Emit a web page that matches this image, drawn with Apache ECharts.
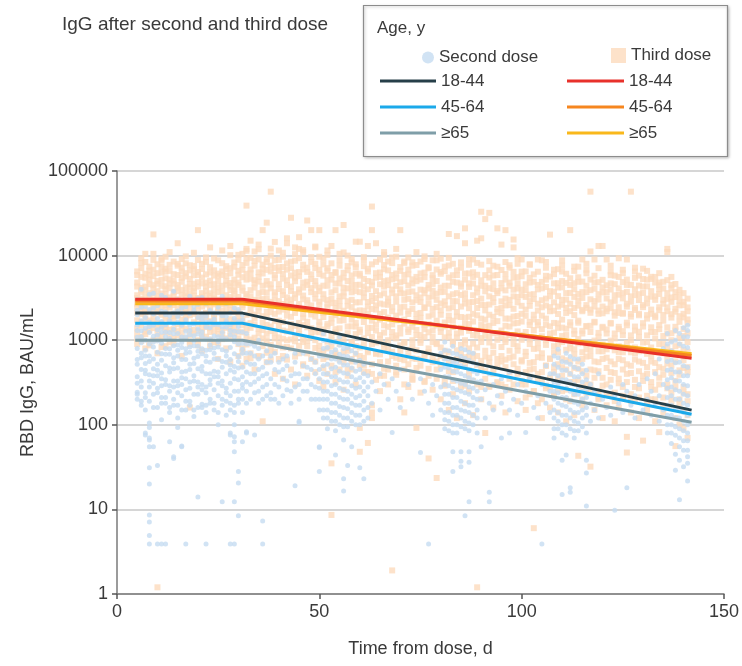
<!DOCTYPE html>
<html>
<head>
<meta charset="utf-8">
<script src="https://cdn.jsdelivr.net/npm/echarts@6/dist/echarts.min.js"></script>
<style>html,body{margin:0;padding:0;background:#fff}#c{width:742px;height:666px}</style>
</head>
<body>
<div id="c"></div>
<script>
// x-axis ticks and y-axis (log) ticks
const xTicks = [0, 50, 100, 150];
const yTicks = [1, 10, 100, 1000, 10000, 100000];

// Fitted model lines: [day, RBD IgG]
const second1844 = [[4.5, 2090], [31, 2090], [142, 149]];
const second4564 = [[4.5, 1590], [31, 1590], [142, 133]];
const second65 = [[4.5, 1000], [31, 1000], [142, 107]];
const third1844 = [[4.5, 3050], [31, 3050], [142, 612]];
const third4564 = [[4.5, 2900], [31, 2900], [142, 660]];
const third65 = [[4.5, 2700], [31, 2700], [142, 690]];

// Individual measurements after the second dose, rows: [day, value, value, ...]
const secondDoseRows = [
[5,200,310,520,800,1300,2000,3000,243],
[6,170,280,450,700,1100,1700,2700,4000],
[7,150,240,400,650,1000,1600,2500,76,80],
[8,105,93,66,55,31,20,8.6,7.1,4.9,3.9,190,330,560,900,1450,2300,3500,70],
[9,230,380,600,950,1500,2400,3600,55],
[10,33,3.9,160,270,440,720,1150,1800,2900],
[11,3.9,115,210,350,580,920,1400,2200,3400],
[12,3.9,180,300,500,800,1250,2000,3200],
[13,63,140,250,420,680,1050,1700,2600],
[14,42,40,200,330,540,860,1350,2100,3800],
[15,120,93,170,290,470,760,1200,1900,3000],
[16,55,56,220,360,590,940,1500,2400],
[17,3.9,150,260,430,700,1100,1750,2800],
[18,190,320,520,830,1300,2050,3300],
[19,125,230,380,610,980,1550,2500],
[20,14,160,280,460,740,1180,1850,3100],
[21,175,300,490,790,1250,2000,3200],
[22,3.9,140,240,400,650,1030,1650,2700],
[23,200,340,550,880,1400,2250],
[24,150,260,430,700,1120,1780,2900],
[25,100,220,370,600,960,1530,2450],
[26,12.3,170,290,480,770,1230,1950,3300],
[27,130,240,400,650,1040,1670,2700],
[28,76,80,3.9,180,310,510,820,1300,2100],
[29,100,63,48,12.3,72,3.9,140,250,420,690,1100,1800,2900],
[30,28,20.5,8.4,200,340,560,900,1450,2300],
[31,63,200,300,480,780,1250,2000],
[32,83,80,250,420,700,1200],
[33,300,520,900],
[34,76,240,400,650],
[35,180,350,600,1000],
[36,7.3,3.9,280,480],
[37,220,400,750],
[38,240,200,550],
[39,300,700],
[40,180,420],
[41,350,600],
[42,260,500],
[43,250],
[44,19,400,700],
[45,110,106,300],
[46,500,250],
[47,350],
[48,200,600],
[49,400,280],
[50,270,55,54,28,150,450],
[51,120,200,320,500,800,1200],
[52,90,150,250,400,650,1000],
[53,110,180,290,460,720],
[54,44,85,140,230,370,600,950],
[55,100,165,270,430,680,1100],
[56,66,23,16.5,120,200,320,510,800],
[57,33,95,155,250,400,640],
[58,55,110,180,290,470,750],
[59,130,210,340,550],
[60,31,100,170,280,450],
[61,23,150,250,400],
[62,120,220,380],
[63,180,320],
[64,250],
[65,150,400],
[66,300],
[67,200],
[68,81,350],
[69,250],
[70,160,450],
[72,300],
[73,200],
[75,47,350],
[76,250],
[77,3.9,180],
[78,300,130],
[79,220],
[80,150,280,450,700],
[81,90,140,230,370,600,950],
[82,110,180,290,470,750],
[83,48,28,80,130,210,340,550,850],
[84,100,160,260,420,680],
[85,37,32,48,120,190,310,500,800],
[86,8.4,90,145,240,380,610],
[87,48,36,12.3,105,170,280,450,720],
[88,130,210,340,540],
[89,80,150,250,400],
[90,55,200,330],
[91,120,260],
[92,16,12.3,180,400],
[93,150,300],
[94,220],
[95,70,350,180],
[96,250],
[97,80,150,420],
[98,200],
[99,300,130],
[100,180],
[101,81,250],
[102,350],
[103,160],
[104,220,120],
[105,3.9,300],
[106,180,500],
[107,140,250,400],
[108,90,150,250,400,650],
[109,110,180,300,480,780],
[110,38,15,80,130,210,340,560],
[111,44,100,165,270,440,700],
[112,18,16,120,195,320,520],
[113,85,140,230,370,600],
[114,105,175,280,460],
[115,95,150,250,400],
[116,27,11,38,130,210,340],
[117,110,180,300],
[118,150,250],
[119,120,400],
[120,200],
[121,160],
[122,280,130],
[123,9.8,220],
[124,180],
[125,140,300],
[126,18,250],
[127,170],
[128,220,120],
[129,300],
[130,150],
[131,200,350],
[132,130,250],
[133,180,400],
[134,110,220,600],
[135,150,300,800],
[136,80,130,210,340,560,900],
[137,60,100,170,280,450,750],
[138,29,45,75,120,200,330,540,1000],
[139,13,38,55,90,150,250,420,700,1200],
[140,32,65,110,180,300,500,850,1400],
[141,21.6,35,50,80,130,220,380,650,1100,1500]
];

// More second-dose measurements in the dense clusters
const secondDoseRowsDense = [
[5,230,370,590,1080,1510,2260],
[6,190,330,620,930,1290,2450],
[7,210,440,530,760,1380,1850],
[8,280,390,650,1230,1640],
[9,160,310,460,830,1110,2040],
[10,240,380,520,980,1330,2560],
[11,180,290,410,690,1240,1660],
[12,210,340,680,1100,1520,2150],
[13,160,290,470,790,1230,1940],
[14,170,280,460,620,1190,1560],
[15,240,330,650,880,1640,2210],
[16,150,300,420,820,1090,2070],
[17,190,350,590,790,1280,2480],
[18,170,270,450,720,1160,1500],
[19,150,330,530,860,1130,2230],
[20,230,320,640,850,1350,2650],
[21,160,260,430,690,1110,1770],
[22,170,280,560,760,1420,1920],
[23,180,300,400,770,1030,1660],
[24,180,370,600,810,1530,2090],
[25,140,310,420,830,1100,2100],
[26,200,330,560,1080,1420],
[27,190,270,550,740,1420,1920],
[28,150,220,440,590,1150,1520],
[29,170,350,490,960,1280,2400],
[30,180,250,470,640,1260,1650],
[31,140,270,370,700,920,1750],
[32,180,320,550,900],
[33,200,400,700],
[34,320,520,850],
[35,250,450,800],
[36,200,380,650],
[37,300,550],
[38,350,650],
[39,200,450],
[40,280,550],
[41,220,450],
[42,330,650],
[43,180,380],
[44,280,550],
[45,200,400],
[46,350,700],
[47,250,480],
[48,300,450],
[49,200,550],
[50,200,350,650],
[51,150,250,400,650,1000],
[52,120,200,320,520,820],
[53,140,230,370,600,950],
[54,110,180,300,480,770],
[55,130,210,340,550,870],
[56,95,160,260,410,650],
[57,120,200,320,510,820],
[58,140,230,370,600],
[59,100,170,270,430,700],
[60,130,220,360,580],
[61,110,190,320,520],
[62,160,280],
[81,115,180,300,480,760],
[82,85,140,230,370,600],
[83,100,160,270,430,700],
[84,80,130,210,330,540],
[85,95,150,250,400,640],
[86,110,180,300,480,770],
[87,85,140,230,360,580],
[88,100,170,270,430,700],
[89,120,200,320,520],
[108,70,120,200,320,520],
[109,90,140,240,380,620],
[110,100,170,270,440],
[111,75,130,210,340,550],
[112,90,150,250,400,640],
[113,70,110,185,300,480],
[114,85,140,230,370,600],
[115,120,200,320,520],
[116,80,160,270,440],
[136,100,170,270,440,720,1200],
[137,80,130,220,360,580,950],
[138,95,160,260,420,700,1300],
[139,70,120,200,330,550,900],
[140,50,85,140,230,380,640,1100],
[141,42,65,100,170,290,480,820,1300]
];

// Individual measurements after the third dose, rows: [day, value, value, ...]
const thirdDoseRows = [
[5,1200,2100,3400,4800,6500,900,2700],
[6,1500,2500,3900,5600,8200,1100,3100],
[7,800,1800,2900,4300,6100,10500,2300],
[8,1300,2200,3600,5200,7400,950,4600],
[9,1000,1900,3000,4100,6800,17800,10500,2500],
[10,1400,2400,3300,5000,7900,700,3800,1.2],
[11,1100,2000,2800,4400,6300,9200,1600],
[12,1250,2300,3500,5400,7000,850,4000],
[13,950,1700,3200,4700,6600,11000,2600],
[14,1350,2600,3700,5100,8500,1050,2050],
[15,1150,2150,3050,4500,5900,14000,7600],
[16,1450,2450,3450,4900,7200,650,1750],
[17,1050,1950,2750,4200,6200,9800,3300],
[18,1300,2350,3550,5300,7700,900,160],
[19,1200,2050,2950,4650,6900,10800,3800],
[20,1000,1850,3150,4850,6400,20000,2550],
[21,1400,2500,3600,5500,8000,750,1650],
[22,1100,2100,2900,4300,6000,9500,3400],
[23,1250,2250,3350,5050,7300,12500,850],
[24,950,1800,3100,4600,6700,1500,2650],
[25,1350,2400,3700,5700,8800,600,4200],
[26,1150,2000,3000,4400,6500,11500,1700],
[27,1050,2200,3400,5000,7500,800,2800],
[28,1300,2300,3250,4750,7100,13000,550],
[29,1200,2150,3500,5200,8300,1600,4000],
[30,900,1900,2900,4500,6600,10200,650],
[31,800,1500,2600,4200,6800,10500,500],
[32,1100,2000,3300,5200,8200,12000,600,39000],
[33,700,1400,2400,3900,6200,9400,15000],
[34,950,1800,3000,4700,7600,11200,450],
[35,1200,2200,3600,5600,9000,13500,650],
[36,850,1600,2800,4400,7000,20000,110],
[37,1000,1900,3100,5000,8400,24500,550],
[38,750,1450,2500,4100,6500,10000,57000],
[39,1050,2050,3400,5400,8800,14500,400],
[40,900,1700,2900,4600,7300,11500,600],
[41,650,1300,2300,3800,6100,9700,350],
[42,1000,1950,3200,5100,8100,16000,14000],
[43,800,1550,2700,4300,7100,28000,450],
[44,1100,2100,3500,5500,8700,12500,300],
[45,700,1350,2450,4000,6400,16500,12000],
[46,950,1850,3050,4800,7800,11000,500],
[47,850,1650,2750,4500,7200,26000,380],
[48,600,1250,2200,3700,6000,9600,20000],
[49,1000,1900,3100,5000,8000,12800,420],
[50,750,1500,2600,4200,6800,20000,330],
[51,600,1200,2100,3500,5800,9200,280],
[52,800,1550,2700,4400,7100,11500,400],
[53,500,1000,1800,3100,5200,13000,35,8.6],
[54,700,1350,2400,3900,6400,20000,320],
[55,900,1700,2900,4700,7600,10500,450],
[56,550,1100,2000,3300,5500,23000,260],
[57,750,1450,2550,4100,6700,10000,380],
[58,450,950,1750,3000,5000,8300,600],
[59,850,1600,2800,4500,7300,14600,300],
[60,650,1250,2250,3700,6100,14600,92,48],
[61,500,1050,1900,3200,5300,8800,420],
[62,750,1400,2500,4000,6500,13000,61],
[63,400,900,1700,2900,4900,38000,20000,170,140,120],
[64,700,1300,2300,3800,6200,14000,340],
[65,550,1150,2050,3400,5600,9000,250],
[66,800,1500,2650,4300,6900,11000,380],
[67,450,1000,1850,3100,5100,8500,300],
[68,650,1250,2200,3600,5900,9500,1.9],
[69,500,1050,1950,3300,5400,12000,420],
[70,750,1400,2450,4000,6600,20000,200],
[71,450,950,1750,3000,5000,8200,140],
[72,650,1250,2200,3700,6000,9500,280],
[73,400,850,1600,2800,4700,7600,350],
[74,600,1150,2050,3400,5600,11000,92],
[75,500,1000,1850,3200,5200,8500,240],
[76,700,1350,2400,3900,6300,9800,320],
[77,380,800,1550,2700,4500,7300,40],
[78,550,1100,2000,3300,5400,8800,260],
[79,450,900,1700,3000,5000,10500,23.5],
[80,650,1250,2250,3700,6100,9200,200],
[81,350,750,1450,2600,4400,7400,300],
[82,550,1100,1950,3300,5500,18000,150],
[83,420,900,1700,2900,4900,8000,230],
[84,600,1200,2150,3600,5900,17000,120],
[85,320,700,1400,2500,4300,7200,280],
[86,500,1000,1850,3100,5200,21000,14000,180],
[87,380,800,1550,2800,4700,7800,250],
[88,580,1150,2050,3400,5600,9000,130],
[89,300,650,1300,2400,4100,15000,1.2],
[90,480,950,1800,3100,5100,33000,16000,200],
[91,350,750,1450,2600,4400,27000,80],
[92,550,1100,2000,3300,5500,32000,280],
[93,400,850,1600,2800,4700,7600,160],
[94,600,1200,2150,3600,5900,21000,320],
[95,300,650,1300,2400,4100,13500,220],
[96,480,950,1800,3100,5200,20000,140],
[97,350,750,1450,2600,4400,7200,260],
[98,520,1050,1900,3300,5500,15500,12500],
[99,400,850,1600,2800,4700,8000,190],
[100,580,1150,2050,3400,5700,9000,300],
[101,300,650,1250,2300,3900,6500,150],
[102,450,900,1650,2900,4800,7800,230],
[103,250,550,1100,2000,3500,6000,6],
[104,400,800,1500,2700,4500,9000,180],
[105,330,700,1350,2450,4100,8800,120],
[106,500,1000,1800,3100,5200,7200,270],
[107,280,600,1200,2200,3800,17700,160],
[108,420,850,1600,2800,4700,6800,220],
[109,350,720,1400,2500,4200,6900,140],
[110,480,950,1750,3000,5000,7600,250],
[111,260,580,1150,2100,3600,6100,110],
[112,400,800,1500,2700,4500,20000,190],
[113,320,680,1300,2400,4000,6600,130],
[114,460,920,1700,2950,4900,7400,43],
[115,280,600,1200,2200,3700,9000,170],
[116,380,780,1450,2600,4400,6800,240],
[117,300,650,1250,2300,3900,57000,11200,32],
[118,440,880,1650,2900,4800,9000,150],
[119,250,550,1100,2050,3500,13000,200],
[120,360,740,1400,2500,4200,13000,120],
[121,300,620,1200,2200,3700,9000,170],
[122,420,850,1600,2800,4700,6500,230],
[123,240,520,1050,1950,3400,5800,110],
[124,350,720,1350,2450,4100,9300,160],
[125,280,580,1150,2100,3600,6200,210],
[126,400,800,1500,2700,4500,9000,72,47],
[127,230,500,1000,1900,3300,57000,140],
[128,340,700,1300,2400,4000,6500,190],
[129,270,560,1100,2050,3500,5800,120],
[130,380,760,1450,2600,4300,7000,65],
[131,220,480,950,1800,3100,5200,150],
[132,320,650,1250,2300,3800,5300,200],
[133,260,540,1050,1950,3300,5600,110],
[134,360,720,1350,2450,4000,4800,82],
[135,210,460,900,1700,3000,4900,140],
[136,300,620,1200,2200,3600,12000,11000],
[137,240,500,1000,1850,3200,4500,170],
[138,330,680,1300,2350,3700,56,120],
[139,200,440,880,1650,2900,3400,100],
[140,280,580,1120,2050,2600,150,90],
[141,230,480,950,1600,2200,130,70]
];

// More third-dose measurements inside the dense band
const thirdDoseRowsDense = [
[5,1050,1380,1720,2480,3150,4300,5900],
[6,980,1640,2050,2330,3720,4150,7100,9300],
[7,1180,1270,2140,3320,3890,5470,8400],
[8,870,1540,1710,2790,3270,5890,6650],
[9,1390,1660,2370,3560,4480,5720,8900],
[10,1010,1190,1580,2140,2920,4650,6210],
[11,830,1470,2490,3110,3560,5160,7330,8700],
[12,1420,1530,1820,2610,4340,6460,9700],
[13,1110,1330,2440,2960,4120,5230,7780],
[14,910,1760,1930,2850,3310,4670,6040],
[15,1280,1540,1990,2370,3810,4180,7990],
[16,1060,1230,2090,2630,3910,5440,6470,9100],
[17,1370,1710,2110,2380,3610,5680,8110],
[18,960,1150,1970,2710,4170,4620,6680],
[19,1320,1630,2240,3370,4120,5860,7540],
[20,870,1290,1560,2380,2790,4310,5910,8860],
[21,1080,1250,1940,2870,3270,4690,6940],
[22,1430,1510,1860,2640,3830,4790,8430],
[23,1020,1390,1680,2450,3590,4480,6310],
[24,1280,1620,2050,3440,3980,5810,9240],
[25,920,1180,1430,2170,3010,4940,6120],
[26,1030,1320,2230,2650,3790,5910,8140],
[27,1400,1690,2560,3020,4530,5760,6890],
[28,1120,1430,1770,2590,3920,4320,6170,10100],
[29,1390,1670,2310,2820,3820,4710,7380],
[30,1050,1260,1690,2170,3240,4790,5940,8920],
[31,720,1240,1720,2450,3840,5560,7730],
[32,890,1310,1530,2880,3510,6090,9220,11400],
[33,610,1020,1590,2070,3300,5320,6880],
[34,1070,1520,2010,2640,4190,5120,8630],
[35,640,990,1360,2430,3050,4930,6350,11900],
[36,1050,1320,1920,3060,3720,6150,7810],
[37,710,1190,1520,2170,3660,4540,6780,9100],
[38,590,880,1280,2140,2840,4590,7620,12100],
[39,730,1210,1690,2930,3680,5910,7170],
[40,1080,1460,2180,2530,4030,6620,8910],
[41,820,1040,1640,2680,3420,5340,7320,10800],
[42,590,830,1270,2270,2870,4490,6830],
[43,1020,1330,1890,3020,3820,5820,8460],
[44,640,970,1480,2380,3140,4980,6290,10400],
[45,860,1180,1600,2670,3660,5720,9320],
[46,520,1020,1510,2040,3370,4190,6870,11600],
[47,700,980,1420,2330,2970,4920,6420],
[48,1090,1380,2010,2580,4130,5280,8420],
[49,560,810,1260,2200,3510,4420,7120,12500],
[50,860,1240,1650,2850,3790,6040,9690],
[51,470,730,1340,1880,3090,4410,7870],
[52,630,960,1460,2460,2980,5110,6610,10200],
[53,840,1140,1600,2740,3680,5900,8100],
[54,420,660,1240,1980,2770,4680,6230],
[55,590,1050,1380,2510,3300,5360,8830],
[56,720,940,1720,2230,3660,4180,6260,10900],
[57,450,810,1210,2060,2890,5000,7530],
[58,560,930,1460,2460,3680,4260,5820,9100],
[59,690,1180,1450,2190,3810,6130,7890],
[60,510,820,1330,1940,2810,4520,5790],
[61,620,890,1640,2230,3640,4300,7490,9600],
[62,420,720,1210,2070,2830,5010,6980],
[63,520,1090,1400,2340,3330,4440,7880],
[64,690,940,1530,2580,3140,5480,8430],
[65,380,680,1040,1750,2710,4580,6310],
[66,460,900,1230,2150,3580,4990,7740,10200],
[67,560,790,1440,2620,2840,4480,6680],
[68,730,1090,1540,2460,3970,5250,8150],
[69,390,620,1140,1720,2850,4390,6140,9700],
[70,600,870,1200,2120,3620,4840,7320],
[71,300,580,930,1570,2490,3560,5910,8500],
[72,520,770,1340,2040,3080,4440,6830],
[73,340,610,1000,1440,2340,3770,5240,8330],
[74,470,760,1320,1780,2960,4980,7740],
[75,590,930,1150,2100,2830,3960,6160],
[76,330,610,1090,1510,2450,3590,5560,9100],
[77,460,720,1240,1910,3180,4080,7080],
[78,620,950,1310,2350,3840,4630,5880],
[79,350,560,920,1490,2460,3550,6850,8800],
[80,510,820,1390,2000,2720,4190,6410],
[81,290,620,1080,1620,2880,3730,6560],
[82,430,720,1230,1730,2370,4400,7640,9400],
[83,330,580,960,1430,2460,3490,5860],
[84,480,760,1080,1910,2890,4800,6690],
[85,580,880,1230,1880,3430,4680,8320],
[86,290,630,910,1580,2710,3580,6130],
[87,440,640,1290,1890,2390,4260,6160,9100],
[88,330,680,910,1660,2830,4680,6350],
[89,510,820,1130,1970,2900,3660,5930,8200],
[90,280,570,1060,1510,2610,4400,7820],
[91,430,640,1130,1750,2250,3790,5870],
[92,290,620,940,1480,2640,4120,6690,8600],
[93,460,710,1210,1890,3150,4010,5820],
[94,310,510,1010,1680,2340,3810,7380],
[95,560,830,1090,2080,2880,4730,6760],
[96,280,590,1020,1480,2580,3880,6050,8400],
[97,420,620,1150,1800,3000,4790,7690],
[98,300,640,900,1580,2350,3950,6430],
[99,460,750,1270,1930,3240,4080,5560,9300],
[100,330,560,1010,1660,2550,3960,6460],
[101,210,420,730,1120,1940,3250,4590],
[102,370,540,1020,1510,2550,3460,5460,7900],
[103,250,460,790,1320,1760,3060,4900],
[104,330,630,920,1640,2240,3990,6450],
[105,200,420,620,1110,1950,2970,4890],
[106,290,500,880,1520,2570,4250,5770,8400],
[107,360,610,1060,1460,2460,3310,5650],
[108,220,480,720,1230,2230,3740,6040],
[109,260,520,890,1580,2040,3320,4720],
[110,380,610,1120,1410,2620,4220,6480,8800],
[111,200,450,770,1370,2410,3020,4760],
[112,320,560,910,1630,2200,3620,5390],
[113,230,470,780,1180,1980,3250,4710,7400],
[114,340,560,1030,1610,2560,3520,5540],
[115,200,430,720,1290,2280,3160,4930],
[116,300,640,900,1470,2410,3700,6180,8000],
[117,240,450,760,1480,2110,3040,5200],
[118,360,560,990,1620,2500,4060,5780],
[119,210,430,740,1220,2240,3020,4860,7100],
[120,290,600,890,1440,2080,3670,5170],
[121,230,470,780,1340,2360,3110,4460],
[122,340,560,990,1570,2390,3970,5880,7600],
[123,190,410,760,1200,2140,2920,4600],
[124,310,600,850,1440,2100,3450,5600],
[125,220,450,720,1280,2050,3120,4870,6800],
[126,320,520,930,1610,2500,3720,5210],
[127,190,410,720,1140,2040,2850,4510],
[128,280,590,820,1450,2280,3410,5460,7200],
[129,210,430,740,1260,1970,2980,4420],
[130,330,540,940,1590,2460,3620,5290],
[131,180,400,690,1140,1980,2720,4330,6600],
[132,280,560,820,1420,2050,3270,5610],
[133,200,420,720,1250,1870,3000,4800],
[134,300,480,900,1510,2260,3520,4460,6200],
[135,170,390,700,1120,1990,2700,4080],
[136,270,530,830,1420,2440,3080,5130],
[137,200,410,740,1210,2030,2840,4080,5600],
[138,280,560,850,1440,2170,3240,4620],
[139,180,390,700,1070,1920,2580,3940],
[140,240,470,760,1360,1860,2840,3600],
[141,190,420,730,1210,1760,2440,3100]
];

function toPoints(rows) {
  const out = [];
  rows.forEach(r => { for (let i = 1; i < r.length; i++) out.push([r[0], r[i]]); });
  return out;
}

const FONT = 'Liberation Sans';
const TXT = '#3a3a3a';

const chart = echarts.init(document.getElementById('c'), null, {renderer: 'canvas'});

function lineSeries(name, data, color, z) {
  return {
    name: name, type: 'line', data: data, symbol: 'none', z: z,
    lineStyle: {color: color, width: 3}, itemStyle: {color: color},
    silent: true
  };
}

chart.setOption({
  animation: false,
  title: {
    text: 'IgG after second and third dose', left: 57, top: 10,
    textStyle: {fontFamily: FONT, fontSize: 19, fontWeight: 'normal', color: TXT}
  },
  graphic: [
    {type: 'rect', z: 0, shape: {x: 363.5, y: 5.5, width: 364, height: 151},
     style: {fill: '#fff', stroke: '#8c8c8c', lineWidth: 1.2, shadowColor: 'rgba(0,0,0,0.25)', shadowBlur: 3, shadowOffsetX: 1, shadowOffsetY: 1}},
    {type: 'text', z: 1, left: 377, top: 20,
     style: {text: 'Age, y', fontFamily: FONT, fontSize: 17, fill: TXT}}
  ],
  legend: [
    {data: ['Second dose'], left: 422, top: 49, padding: 0, icon: 'circle', itemWidth: 12, itemHeight: 12,
     textStyle: {fontFamily: FONT, fontSize: 17, color: TXT}, selectedMode: false},
    {data: ['Third dose'], left: 611, top: 47, padding: 0, icon: 'rect', itemWidth: 15, itemHeight: 15,
     textStyle: {fontFamily: FONT, fontSize: 17, color: TXT}, selectedMode: false},
    {data: ['S18-44', 'S45-64', 'S≥65'], left: 380, top: 72, padding: 0, orient: 'vertical', icon: 'rect',
     itemWidth: 56, itemHeight: 3, itemGap: 8, formatter: n => n.slice(1),
     textStyle: {fontFamily: FONT, fontSize: 17, color: TXT, lineHeight: 18}, selectedMode: false},
    {data: ['T18-44', 'T45-64', 'T≥65'], left: 567, top: 72, padding: 0, orient: 'vertical', icon: 'rect',
     itemWidth: 57, itemHeight: 3, itemGap: 8, formatter: n => n.slice(1),
     textStyle: {fontFamily: FONT, fontSize: 17, color: TXT, lineHeight: 18}, selectedMode: false}
  ],
  grid: {left: 117, right: 17, top: 171, bottom: 72, containLabel: false},
  xAxis: {
    type: 'value', min: xTicks[0], max: xTicks[xTicks.length - 1], interval: 50,
    name: 'Time from dose, d', nameLocation: 'middle', nameGap: 46,
    nameTextStyle: {fontFamily: FONT, fontSize: 18, color: TXT},
    axisLine: {show: true, lineStyle: {color: '#7a7a7a', width: 1.5}},
    axisTick: {show: true, length: 5, lineStyle: {color: '#555', width: 1.5}},
    axisLabel: {fontFamily: FONT, fontSize: 18, color: TXT, margin: 9},
    splitLine: {show: false}
  },
  yAxis: {
    type: 'log', logBase: 10, min: yTicks[0], max: yTicks[yTicks.length - 1],
    name: 'RBD IgG, BAU/mL', nameLocation: 'middle', nameGap: 80,
    nameTextStyle: {fontFamily: FONT, fontSize: 18, color: TXT},
    axisLine: {show: true, lineStyle: {color: '#7a7a7a', width: 1.5}},
    axisTick: {show: true, length: 5, lineStyle: {color: '#555', width: 1.5}},
    axisLabel: {fontFamily: FONT, fontSize: 18, color: TXT, margin: 9, formatter: v => String(Math.round(v))},
    splitLine: {show: true, lineStyle: {color: '#d6d6d6', width: 2}}
  },
  series: [
    {name: 'Third dose', type: 'scatter', data: toPoints(thirdDoseRows.concat(thirdDoseRowsDense)),
     symbol: 'rect', symbolSize: 6, itemStyle: {color: '#fddbbd'}, z: 2, silent: true, large: false},
    {name: 'Second dose', type: 'scatter', data: toPoints(secondDoseRows.concat(secondDoseRowsDense)),
     symbol: 'circle', symbolSize: 5, itemStyle: {color: '#c6dcf1'}, z: 3, silent: true, large: false},
    lineSeries('S≥65', second65, '#7f9ea8', 5),
    lineSeries('S45-64', second4564, '#1ba9ea', 6),
    lineSeries('S18-44', second1844, '#263f49', 7),
    lineSeries('T≥65', third65, '#f9b81b', 8),
    lineSeries('T45-64', third4564, '#f6861f', 9),
    lineSeries('T18-44', third1844, '#e8312b', 10)
  ]
});
</script>
</body>
</html>
